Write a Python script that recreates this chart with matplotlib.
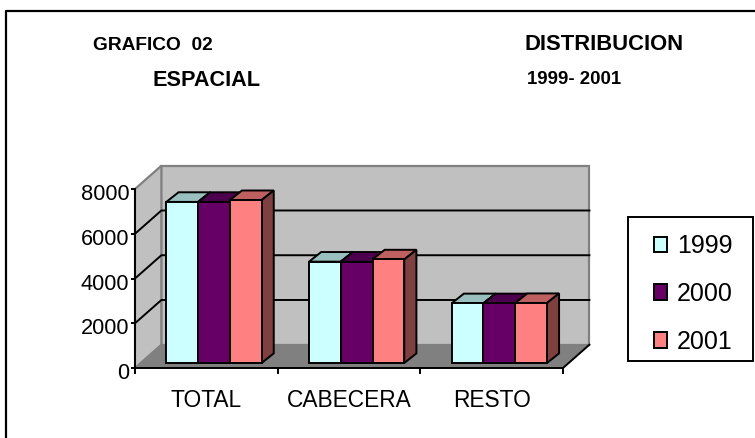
import matplotlib
matplotlib.use('Agg')
import matplotlib.pyplot as plt
from matplotlib.patches import Polygon, Patch, Rectangle
from matplotlib.lines import Line2D
from matplotlib.transforms import ScaledTranslation

plt.rcParams['font.family'] = ['Liberation Sans', 'DejaVu Sans']

categorias = ['TOTAL', 'CABECERA', 'RESTO']
anios = ['1999', '2000', '2001']
valores1999 = [7200, 4530, 2670]
valores2000 = [7200, 4530, 2670]
valores2001 = [7280, 4630, 2680]
series = [valores1999, valores2000, valores2001]
ticksY = [0, 2000, 4000, 6000, 8000]

colores = ['#CCFFFF', '#660066', '#FF8080']
coloresTop = ['#99BFBF', '#4D004D', '#BF6060']
coloresLado = ['#669999', '#330033', '#804040']

W, H = 755, 438
fig = plt.figure(figsize=(W / 100, H / 100), dpi=100)
ax = fig.add_axes([135 / W, (H - 368) / H, 428 / W, 179 / H])
ax.set_xlim(0, 3)
ax.set_ylim(0, 8000)
ax.patch.set_alpha(0)

# profundidad del grafico 3D, en unidades de datos
fondoX = 0.185
fondoY = 1040
anchoBar = 0.2225
inicioBar = 0.22
baseBar = 223
profX = 0.085
profY = 430

# paredes y piso
ax.add_patch(Polygon([(fondoX, fondoY), (3 + fondoX, fondoY), (3 + fondoX, 8000 + fondoY), (fondoX, 8000 + fondoY)],
                     fc='#C0C0C0', ec='#808080', lw=1.6, clip_on=False, zorder=1))
ax.add_patch(Polygon([(0, 0), (fondoX, fondoY), (fondoX, 8000 + fondoY), (0, 8000)],
                     fc='#C0C0C0', ec='#808080', lw=1.6, clip_on=False, zorder=1))
ax.add_patch(Polygon([(0, 0), (3, 0), (3 + fondoX, fondoY), (fondoX, fondoY)],
                     fc='#808080', ec='none', clip_on=False, zorder=1.5))

# lineas de grilla
for t in ticksY[1:-1]:
    ax.plot([0, fondoX, 3 + fondoX], [t, t + fondoY, t + fondoY], color='black', lw=1.4,
            clip_on=False, zorder=2)
ax.plot([3, 3 + fondoX], [0, fondoY], color='black', lw=1.4, clip_on=False, zorder=2)

# barras
z = 3
for c in range(len(categorias)):
    for s in range(len(series)):
        x0 = c + inicioBar + s * anchoBar
        v = series[s][c]
        ax.add_patch(Polygon([(x0, baseBar + v), (x0 + anchoBar, baseBar + v),
                              (x0 + anchoBar + profX, baseBar + v + profY), (x0 + profX, baseBar + v + profY)],
                             fc=coloresTop[s], ec='black', lw=1.4, clip_on=False, zorder=z))
        ax.add_patch(Polygon([(x0 + anchoBar, baseBar), (x0 + anchoBar + profX, baseBar + profY),
                              (x0 + anchoBar + profX, baseBar + v + profY), (x0 + anchoBar, baseBar + v)],
                             fc=coloresLado[s], ec='black', lw=1.4, clip_on=False, zorder=z))
        ax.bar(x0, v, anchoBar, bottom=baseBar, align='edge', color=colores[s], edgecolor='black',
               linewidth=1.4, clip_on=False, zorder=z + 0.5)
        z += 1

# ejes
ax.spines['top'].set_visible(False)
ax.spines['right'].set_visible(False)
ax.spines['left'].set_linewidth(1.4)
ax.spines['bottom'].set_linewidth(1.4)
ax.spines['left'].set_zorder(50)
ax.spines['bottom'].set_zorder(2.5)
ax.set_yticks(ticksY)
ax.set_xticks([0, 1, 2, 3])
ax.set_xticklabels([])
ax.set_xticks([0.5, 1.5, 2.5], minor=True)
ax.set_xticklabels(categorias, minor=True)
ax.tick_params(axis='x', which='major', length=4, width=1.4)
ax.tick_params(axis='x', which='minor', length=0, pad=15, labelsize=16.4)
ax.tick_params(axis='y', length=3, width=1.4, pad=1, labelsize=15.7)

# bajar un poco los numeros del eje y
bajar = ScaledTranslation(0, -3 / 72 * 0.72, fig.dpi_scale_trans)
for label in ax.get_yticklabels():
    label.set_transform(label.get_transform() + bajar)

# leyenda
fig.add_artist(Rectangle((628 / W, 1 - 361 / H), 125 / W, 144 / H, transform=fig.transFigure,
                         fc='white', ec='black', lw=1.4))
handles = [Patch(facecolor=colores[i], edgecolor='black', linewidth=1.4, label=anios[i]) for i in range(3)]
fig.legend(handles=handles, loc='center', bbox_to_anchor=(693.5 / W, 1 - 294 / H), fontsize=18, frameon=False,
           handlelength=0.5, handleheight=0.6, handletextpad=0.42, labelspacing=0.95, borderpad=0.3,
           borderaxespad=0)

# titulos
fig.text(93 / W, 1 - 45 / H, 'GRAFICO  02', fontsize=13.8, fontweight='bold', va='center')
fig.text(153 / W, 1 - 81 / H, 'ESPACIAL', fontsize=15.6, fontweight='bold', va='center')
fig.text(525 / W, 1 - 44 / H, 'DISTRIBUCION', fontsize=15.8, fontweight='bold', va='center')
fig.text(527 / W, 1 - 80 / H, '1999- 2001', fontsize=13.4, fontweight='bold', va='center')

# marco exterior
fig.add_artist(Line2D([6 / W, 6 / W, 1], [0, 1 - 11 / H, 1 - 11 / H], color='black', lw=1.6))

fig.savefig('out.png', dpi=100)
